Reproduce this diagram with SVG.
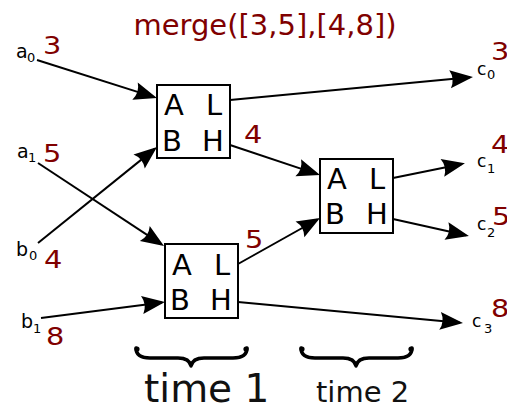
<svg xmlns="http://www.w3.org/2000/svg" xmlns:xlink="http://www.w3.org/1999/xlink" width="507" height="408" viewBox="0 0 507 408">
  <style>
    .box { fill: #ffffff; stroke: #000000; stroke-width: 2; }
    .port { font-family: "DejaVu Sans", "Liberation Sans", sans-serif; font-size: 29px; fill: #000000; }
    .wire { fill: none; stroke: #000000; stroke-width: 2; marker-end: url(#head); }
    .val { font-family: "DejaVu Sans", "Liberation Sans", sans-serif; font-size: 24px; fill: #800000; }
    .lbl { font-family: "DejaVu Sans", "Liberation Sans", sans-serif; font-size: 19px; fill: #000000; }
    .lblr { font-family: "DejaVu Sans", "Liberation Sans", sans-serif; font-size: 17px; fill: #000000; }
    .sub { font-size: 13px; }
    .title { font-family: "DejaVu Sans", "Liberation Sans", sans-serif; font-size: 29px; fill: #800000; }
    .time { font-family: "DejaVu Sans", "Liberation Sans", sans-serif; fill: #111111; }
    .brace { fill: none; stroke: #000000; stroke-width: 3.5; stroke-linecap: round; stroke-linejoin: round; }
  </style>
  <defs>
    <marker id="head" viewBox="-22 -10 26 20" markerWidth="26" markerHeight="20" refX="0" refY="0" orient="auto" markerUnits="userSpaceOnUse">
      <path d="M3,0 L-20,-9 Q-15,0 -20,9 Z" fill="#000000"/>
    </marker>
    <g id="brace-shape">
      <path class="brace" d="M136,348 C136,355 141,358 150,358 L178,358 C186,358 190,361 191,366 C192,361 196,358 204,358 L233,358 C242,358 247,355 247,348"/>
      <circle cx="137" cy="349" r="2.6"/>
      <circle cx="246" cy="349" r="2.6"/>
    </g>
  </defs>

  <text class="title" x="265" y="35" text-anchor="middle">merge([3,5],[4,8])</text>

  <!-- connectors -->
  <g id="connectors">
    <path class="wire" d="M37,60 L154.1,97.1"/>
    <path class="wire" d="M230,100 L470,77.3"/>
    <path class="wire" d="M38,163 L161.5,244.4"/>
    <path class="wire" d="M38,243 L154.7,148.9"/>
    <path class="wire" d="M41,318 L162,302.4"/>
    <path class="wire" d="M230,145 L317.2,174.1"/>
    <path class="wire" d="M238,264 L317.4,219.5"/>
    <path class="wire" d="M393,178 L462,163.9"/>
    <path class="wire" d="M393,219 L466,235.3"/>
    <path class="wire" d="M238,302 L460,322.7"/>
  </g>

  <!-- comparators -->
  <g id="cmp1">
    <rect class="box" x="157" y="85" width="73" height="73"/>
    <text class="port" x="164" y="115">A</text>
    <text class="port" x="206" y="115">L</text>
    <text class="port" x="162" y="151">B</text>
    <text class="port" x="202" y="151">H</text>
  </g>
  <g id="cmp2">
    <rect class="box" x="165" y="244" width="73" height="74"/>
    <text class="port" x="172" y="275">A</text>
    <text class="port" x="214" y="275">L</text>
    <text class="port" x="170" y="310">B</text>
    <text class="port" x="210" y="310">H</text>
  </g>
  <g id="cmp3">
    <rect class="box" x="320" y="159" width="73" height="74"/>
    <text class="port" x="327" y="189">A</text>
    <text class="port" x="369" y="189">L</text>
    <text class="port" x="325" y="224">B</text>
    <text class="port" x="366" y="224">H</text>
  </g>

  <!-- inputs -->
  <g id="in-a0">
    <text class="lbl" x="16" y="58">a<tspan class="sub" x="27" y="62">0</tspan></text>
    <text class="val" transform="translate(43,54) scale(1.2,1)">3</text>
  </g>
  <g id="in-a1">
    <text class="lbl" x="17" y="158">a<tspan class="sub" x="28" y="162">1</tspan></text>
    <text class="val" transform="translate(43,162) scale(1.2,1)">5</text>
  </g>
  <g id="in-b0">
    <text class="lbl" x="16" y="256">b<tspan class="sub" x="29" y="260">0</tspan></text>
    <text class="val" transform="translate(44,268) scale(1.2,1)">4</text>
  </g>
  <g id="in-b1">
    <text class="lbl" x="21" y="328">b<tspan class="sub" x="33" y="333">1</tspan></text>
    <text class="val" transform="translate(46,345) scale(1.2,1)">8</text>
  </g>

  <!-- intermediate values -->
  <text class="val" transform="translate(244,143) scale(1.2,1)">4</text>
  <text class="val" transform="translate(245,248) scale(1.2,1)">5</text>

  <!-- outputs -->
  <g id="out-c0">
    <text class="lblr" x="477" y="75">c<tspan class="sub" x="487" y="79">0</tspan></text>
    <text class="val" transform="translate(491,60) scale(1.2,1)">3</text>
  </g>
  <g id="out-c1">
    <text class="lblr" x="477" y="167">c<tspan class="sub" x="487" y="173">1</tspan></text>
    <text class="val" transform="translate(491,153) scale(1.2,1)">4</text>
  </g>
  <g id="out-c2">
    <text class="lblr" x="477" y="230">c<tspan class="sub" x="487" y="237">2</tspan></text>
    <text class="val" transform="translate(492,225) scale(1.2,1)">5</text>
  </g>
  <g id="out-c3">
    <text class="lblr" x="472" y="327">c<tspan class="sub" x="484" y="333">3</tspan></text>
    <text class="val" transform="translate(491,317) scale(1.2,1)">8</text>
  </g>

  <!-- time steps -->
  <use xlink:href="#brace-shape"/>
  <use xlink:href="#brace-shape" transform="translate(165,0)"/>
  <text class="time" x="144" y="402" font-size="39">time 1</text>
  <text class="time" x="316" y="402" font-size="29">time 2</text>
</svg>
